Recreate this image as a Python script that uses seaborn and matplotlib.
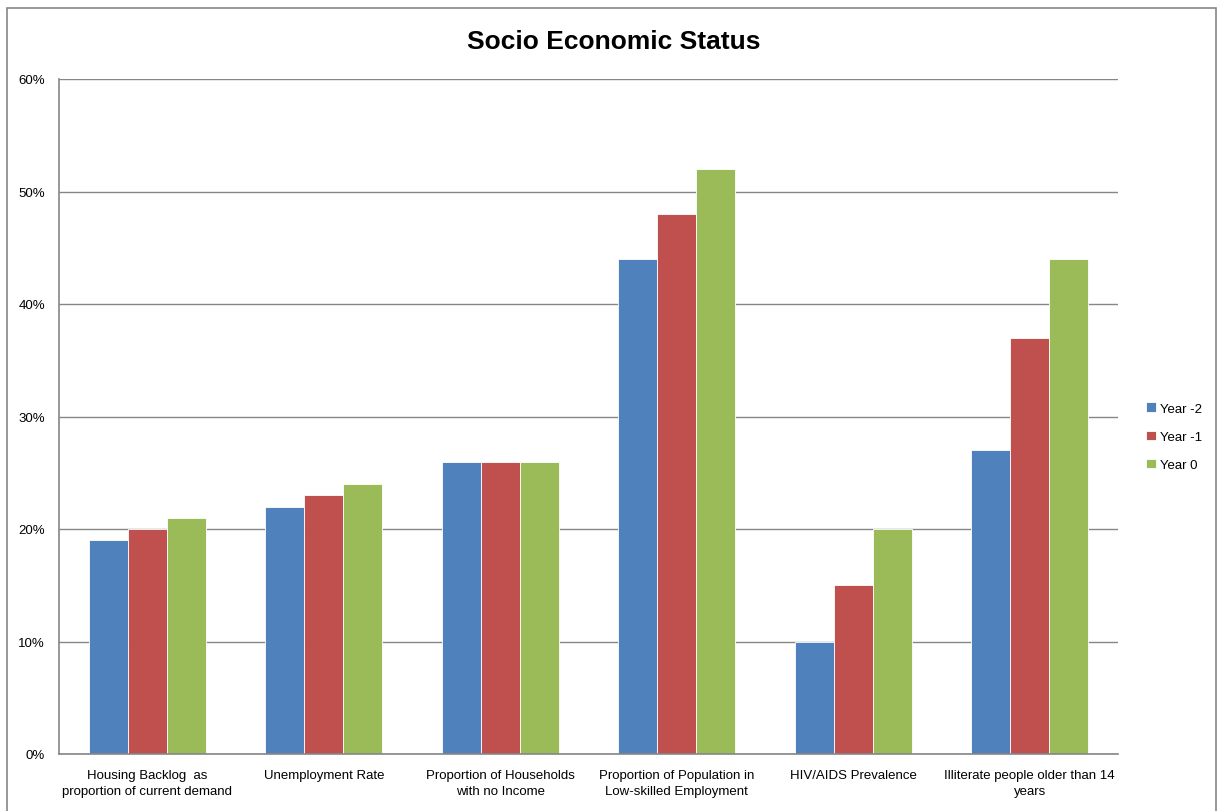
import matplotlib
matplotlib.use("Agg")
import matplotlib.pyplot as plt
import matplotlib.patches as mpatches
from matplotlib.ticker import PercentFormatter
import seaborn as sns
import pandas as pd

categories = [
    "Housing Backlog  as\nproportion of current demand",
    "Unemployment Rate",
    "Proportion of Households\nwith no Income",
    "Proportion of Population in\nLow-skilled Employment",
    "HIV/AIDS Prevalence",
    "Illiterate people older than 14\nyears",
]
series_names = ["Year -2", "Year -1", "Year 0"]
year_m2 = [0.19, 0.22, 0.26, 0.44, 0.10, 0.27]
year_m1 = [0.20, 0.23, 0.26, 0.48, 0.15, 0.37]
year_0 = [0.21, 0.24, 0.26, 0.52, 0.20, 0.44]
colors = ["#4F81BD", "#C0504D", "#9BBB59"]
yticks = [0, 0.1, 0.2, 0.3, 0.4, 0.5, 0.6]

rows = []
for name, vals in zip(series_names, [year_m2, year_m1, year_0]):
    for c, v in zip(categories, vals):
        rows.append({"Category": c, "Series": name, "Value": v})
df = pd.DataFrame(rows)

sns.set_theme(style="white")
plt.rcParams["font.family"] = ["Liberation Sans", "DejaVu Sans"]
plt.rcParams["text.color"] = "black"

fig = plt.figure(figsize=(12.17, 8.12), dpi=100)
ax = fig.add_axes([59/1217, 57/812, (1118-59)/1217, (755-80)/812])

sns.barplot(data=df, x="Category", y="Value", hue="Series", order=categories,
            hue_order=series_names, palette=colors, width=0.665, ax=ax,
            edgecolor="white", linewidth=0.6, saturation=1, errorbar=None)

ax.set_ylim(0, 0.6)
ax.set_xlim(-0.5, len(categories) - 0.5)
ax.set_yticks(yticks)
ax.yaxis.set_major_formatter(PercentFormatter(1.0, decimals=0))
ax.yaxis.grid(True, color="#868686", linewidth=1.0)
ax.set_axisbelow(True)
ax.set_xlabel("")
ax.set_ylabel("")
for s in ["top", "right"]:
    ax.spines[s].set_visible(False)
for s in ["left", "bottom"]:
    ax.spines[s].set_color("#868686")
    ax.spines[s].set_linewidth(1.2)
ax.tick_params(axis="y", length=0, pad=10, labelsize=9.5, colors="black")
ax.tick_params(axis="x", length=0, pad=11, labelsize=9.5, colors="black")
for lbl in ax.get_xticklabels():
    lbl.set_linespacing(1.45)

leg = ax.legend(loc="center left", bbox_to_anchor=(1.015, 0.47), frameon=False,
                fontsize=9.5, handlelength=0.75, handleheight=0.75,
                handletextpad=0.3, labelspacing=1.2)
for t in leg.get_texts():
    t.set_color("black")

fig.text(0.504, 0.948, "Socio Economic Status", ha="center", va="center",
         fontsize=19, fontweight="bold", color="black")

border = mpatches.Rectangle((7/1217, -0.01), (1216-7)/1217, 1 - 9/812 + 0.01,
                            transform=fig.transFigure, fill=False,
                            edgecolor="#868686", linewidth=1.2)
fig.patches.append(border)

fig.savefig("out.png", dpi=100)
